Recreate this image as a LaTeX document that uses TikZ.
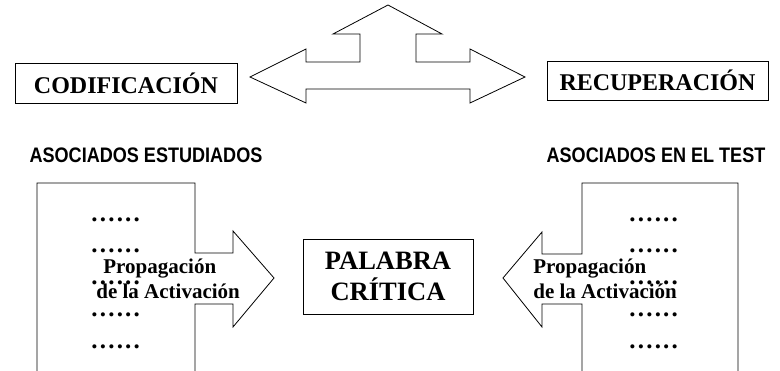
\documentclass[tikz,border=0pt]{standalone}
\usepackage{fontspec}
\setmainfont{Liberation Serif}
\setsansfont{Liberation Sans}
\newfontfamily\titulofont[FakeStretch=0.86]{Liberation Sans}
\usetikzlibrary{positioning}

\newcommand{\filapuntos}{.\kern2.2pt.\kern2.2pt.\kern2.2pt.\kern2.2pt.\kern2.2pt.}

\begin{document}
\begin{tikzpicture}[x=1pt, y=-1pt, line width=0.8pt,
		caja/.style={draw, inner sep=0pt, font=\fontsize{24}{28}\selectfont\bfseries},
		titulo/.style={inner sep=0pt, font=\fontsize{21}{24}\titulofont\bfseries},
		propag/.style={inner sep=0pt, align=left, font=\fontsize{21}{25}\selectfont\bfseries},
		puntos/.style={inner sep=0pt, anchor=base west, font=\fontsize{25}{28}\selectfont\bfseries}]
		\useasboundingbox (0,0) rectangle (780,371);
		% top three-way arrow
		\draw (250,77) -- (306,49) -- (306,62) -- (360,62) -- (360,34) -- (333,34) -- (388,5)
			-- (442,34) -- (416,34) -- (416,62) -- (470,62) -- (470,49) -- (525,77)
			-- (470,103) -- (470,89) -- (306,89) -- (306,103) -- cycle;
		\node[caja, minimum width=222pt, minimum height=40pt] (codif) at (126,83) {CODIFICACIÓN};
		\node[caja, minimum width=221pt, minimum height=39pt] (recup) at (657.5,80.5) {RECUPERACIÓN};
		% lists of associates
		\node[titulo] (estud) at (146,155) {ASOCIADOS ESTUDIADOS};
		\node[titulo] (test) at (656,155) {ASOCIADOS EN EL TEST};
		\draw (37,371) -- (37,183) -- (195,183) -- (195,253) -- (233,253) -- (233,231) -- (274,278)
			-- (233,327) -- (233,304) -- (195,304) -- (195,371);
		\draw (738,371) -- (738,183) -- (582,183) -- (582,254) -- (542,254) -- (542,232) -- (503,278)
			-- (542,327) -- (542,304) -- (582,304) -- (582,371);
		\foreach \fy in {222,253,285,317,349} {
			\node[puntos] (pi\fy) at (91,\fy) {\filapuntos};
			\node[puntos] (pd\fy) at (629,\fy) {\filapuntos};
		}
		\node[propag, anchor=west] (propi) at (96,279) {\hspace*{7pt}Propagación\\de la Activación};
		\node[propag, anchor=west] (propd) at (533,279) {Propagación\\de la Activación};
		% critical word
		\node[caja, minimum width=170pt, minimum height=75pt, align=center,
			font=\fontsize{26.5}{31}\selectfont\bfseries] (palabra) at (388,276.5) {PALABRA\\CRÍTICA};
\end{tikzpicture}
\end{document}
